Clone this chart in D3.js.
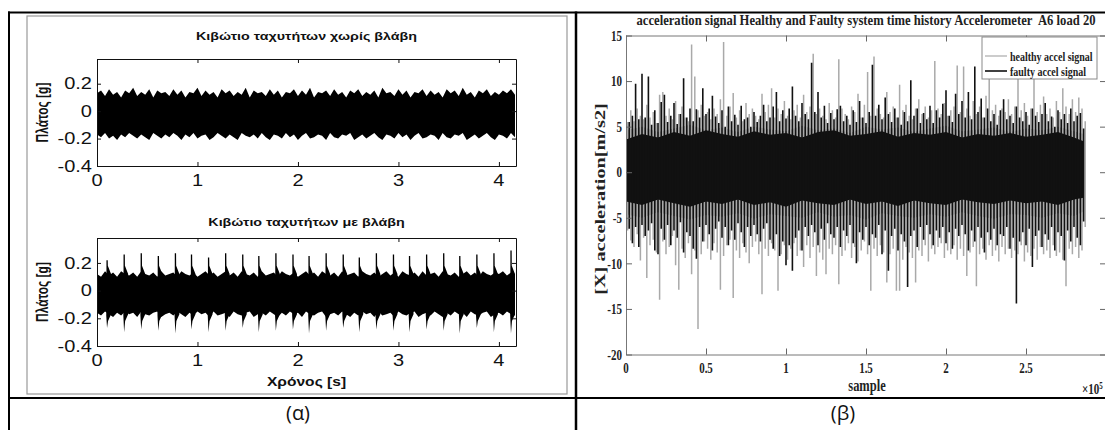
<!DOCTYPE html>
<meta charset="utf-8">
<style>
    body { margin: 0; background: #fff; }
    svg { display: block; background: #fff; }
    .lp text { font-family: "Liberation Sans", Arial, sans-serif; fill: #111; }
    .rp text { font-family: "Liberation Serif", "Times New Roman", serif; font-weight: bold; fill: #222; }
    .caption { font-family: "Open Sans", "Noto Sans", sans-serif; font-size: 20px; fill: #111; }
</style>
<body>
<script src="https://d3js.org/d3.v7.min.js"></script>
<script>
    // ---- (α) gearbox vibration, envelope of the signal every 0.04 s ----
    var gearStep = 0.04;
    var gearXTicks = [0, 1, 2, 3, 4];
    var gearYTicks = [-0.4, -0.2, 0, 0.2];
    var healthyGearHi = [
        .13,.15,.11,.16,.12,.14,.10,.15,.13,.17,.11,.14,.12,.16,.10,.15,.13,.14,.11,.16,
        .12,.15,.10,.14,.13,.17,.11,.15,.12,.14,.10,.16,.13,.15,.11,.14,.12,.17,.10,.15,
        .13,.14,.11,.16,.12,.15,.10,.14,.13,.16,.11,.15,.12,.17,.10,.14,.13,.15,.11,.16,
        .12,.14,.10,.15,.13,.16,.11,.14,.12,.15,.10,.17,.13,.14,.11,.16,.12,.15,.10,.14,
        .13,.16,.11,.15,.12,.14,.10,.16,.13,.15,.11,.17,.12,.14,.10,.15,.13,.16,.11,.14,
        .12,.15,.13,.16,.12];
    var healthyGearLo = [
        -.17,-.19,-.16,-.20,-.18,-.21,-.17,-.19,-.16,-.18,-.20,-.17,-.19,-.21,-.16,-.18,-.20,-.17,-.19,-.16,
        -.18,-.21,-.17,-.19,-.16,-.20,-.18,-.17,-.21,-.19,-.16,-.18,-.20,-.17,-.19,-.21,-.16,-.18,-.19,-.17,
        -.20,-.16,-.19,-.21,-.17,-.18,-.20,-.16,-.19,-.17,-.21,-.18,-.16,-.20,-.19,-.17,-.18,-.21,-.16,-.19,
        -.20,-.17,-.18,-.16,-.21,-.19,-.17,-.20,-.18,-.16,-.19,-.21,-.17,-.18,-.20,-.16,-.19,-.17,-.21,-.18,
        -.16,-.20,-.19,-.17,-.18,-.21,-.16,-.19,-.20,-.17,-.18,-.16,-.21,-.19,-.17,-.20,-.18,-.16,-.19,-.21,
        -.17,-.18,-.20,-.16,-.19];
    var faultyGearHi = [
        .12,.10,.14,.11,.13,.10,.14,.12,.11,.13,.10,.14,.12,.11,.13,.10,.14,.11,.12,.13,
        .10,.14,.12,.11,.13,.10,.12,.14,.11,.13,.10,.12,.14,.11,.13,.10,.14,.12,.11,.13,
        .10,.14,.11,.12,.13,.10,.14,.12,.11,.13,.10,.12,.14,.11,.13,.10,.14,.12,.11,.13,
        .10,.14,.11,.12,.13,.10,.14,.12,.11,.13,.10,.12,.14,.11,.13,.10,.14,.12,.11,.13,
        .10,.14,.11,.12,.13,.10,.14,.12,.11,.13,.10,.12,.14,.11,.13,.10,.14,.12,.11,.13,
        .12,.14,.11,.13,.12];
    var faultyGearLo = [
        -.16,-.18,-.15,-.17,-.19,-.16,-.18,-.15,-.17,-.16,-.19,-.15,-.17,-.18,-.16,-.15,-.19,-.17,-.16,-.18,
        -.15,-.17,-.19,-.16,-.18,-.15,-.17,-.16,-.19,-.15,-.18,-.17,-.16,-.19,-.15,-.17,-.18,-.16,-.15,-.19,
        -.17,-.16,-.18,-.15,-.17,-.19,-.16,-.18,-.15,-.17,-.16,-.19,-.15,-.17,-.18,-.16,-.15,-.19,-.17,-.16,
        -.18,-.15,-.17,-.19,-.16,-.18,-.15,-.17,-.16,-.19,-.15,-.18,-.17,-.16,-.19,-.15,-.17,-.18,-.16,-.15,
        -.19,-.17,-.16,-.18,-.15,-.17,-.19,-.16,-.18,-.15,-.17,-.16,-.19,-.15,-.17,-.18,-.16,-.15,-.19,-.17,
        -.16,-.18,-.15,-.17,-.18];
    // periodic impacts of the faulty gearbox: time [s] and peak values [g]
    var impulseTimes = [0.10,0.27,0.44,0.61,0.78,0.94,1.11,1.28,1.45,1.61,1.78,1.95,2.11,2.28,2.45,2.61,2.78,2.95,3.11,3.28,3.45,3.61,3.78,3.95,4.12];
    var impulseHi = [.22,.26,.27,.25,.27,.26,.24,.27,.26,.25,.27,.26,.25,.27,.26,.24,.27,.26,.25,.26,.27,.25,.26,.27,.29];
    var impulseLo = [-.27,-.30,-.28,-.29,-.31,-.28,-.30,-.29,-.27,-.30,-.29,-.28,-.31,-.29,-.27,-.30,-.28,-.29,-.30,-.28,-.29,-.31,-.27,-.30,-.31];

    // ---- (β) accelerometer A6, peaks every 0.02 (x1e5 samples) ----
    var accelStep = 0.02;
    var healthyOffset = 0.01;
    var accelXTicks = [0, 0.5, 1, 1.5, 2, 2.5, 3];
    var accelYTicks = [-20, -15, -10, -5, 0, 5, 10, 15];
    var faultyAccelHi = [
        4.5,5.5,6.2,9.7,5.8,10.8,6.0,10.5,5.2,6.8,5.4,7.7,
        8.5,5.5,6.2,7.6,5.3,6.4,10.3,6.0,7.0,5.6,6.9,6.0,
        9.2,6.4,7.0,8.4,6.1,5.4,6.8,5.0,7.2,5.6,6.3,5.2,
        7.3,5.8,6.0,5.0,6.6,5.5,6.2,7.4,5.6,6.0,7.2,8.8,
        5.6,6.8,5.9,7.0,9.4,6.2,5.6,7.6,6.4,5.8,12.0,6.6,
        8.8,6.0,7.3,5.4,6.5,5.8,6.9,7.3,5.6,6.2,5.2,6.8,
        5.5,7.8,6.0,5.4,6.6,11.8,6.2,7.4,5.8,8.2,6.4,5.5,
        7.0,6.0,5.2,6.6,5.6,10.1,6.2,7.0,5.4,6.5,5.8,7.3,
        5.4,6.8,6.0,7.5,9.0,6.2,5.5,8.6,6.4,7.8,6.0,8.8,
        5.8,11.6,6.6,8.1,6.0,7.0,5.6,6.4,5.2,6.8,8.0,5.8,
        6.2,5.4,7.2,6.0,5.6,6.6,5.2,7.0,6.2,5.5,6.4,7.6,
        5.6,6.1,5.0,6.8,5.8,6.4,5.4,7.0,5.6,6.2,6.5,4.8];
    var faultyAccelLo = [
        -5.5,-6.2,-7.8,-6.0,-8.2,-5.8,-7.0,-6.4,-5.6,-8.6,-9.0,-6.2,
        -7.4,-5.8,-8.0,-6.4,-7.2,-5.5,-8.8,-6.6,-7.0,-8.4,-9.5,-6.0,
        -7.6,-5.8,-6.8,-8.6,-6.2,-5.4,-7.2,-6.0,-8.0,-6.4,-7.4,-5.6,
        -6.6,-8.2,-6.0,-7.0,-5.8,-6.8,-7.6,-6.2,-5.6,-7.4,-8.4,-6.8,
        -9.2,-7.6,-10.2,-8.0,-10.8,-7.2,-6.4,-8.6,-6.0,-7.0,-5.8,-6.6,
        -8.0,-6.2,-7.4,-5.6,-6.8,-7.2,-6.0,-8.2,-6.4,-7.0,-5.8,-7.8,
        -10.0,-6.6,-7.4,-6.0,-8.0,-6.8,-7.2,-5.8,-9.0,-6.4,-10.8,-7.0,
        -6.2,-8.6,-6.8,-7.6,-12.6,-7.0,-6.4,-8.2,-6.0,-7.4,-5.8,-6.8,
        -8.0,-6.4,-7.2,-6.0,-7.8,-6.6,-8.4,-6.2,-7.0,-5.8,-6.8,-8.6,
        -6.4,-7.6,-6.0,-7.2,-8.8,-6.6,-7.4,-6.2,-8.0,-6.8,-7.0,-6.0,
        -8.4,-7.2,-14.4,-7.6,-6.6,-8.0,-6.2,-10.4,-7.0,-6.4,-8.2,-6.8,
        -7.4,-6.0,-8.6,-6.6,-7.0,-9.7,-6.4,-7.6,-6.0,-7.2,-8.0,-5.4];
    var healthyAccelHi = [
        5.5,6.8,5.6,7.0,6.2,5.8,7.4,6.0,6.6,5.4,8.5,8.8,
        6.2,7.0,5.8,7.8,6.4,7.2,6.0,5.6,14.0,10.5,6.8,7.4,
        6.2,6.6,5.8,7.0,6.4,8.0,14.3,6.2,7.2,8.7,6.0,6.8,
        5.6,7.6,6.4,7.0,6.2,5.8,8.6,6.6,7.4,9.2,6.0,7.0,
        6.4,7.8,6.2,5.8,6.8,7.4,6.0,8.5,6.6,7.2,13.0,6.4,
        7.0,6.2,5.8,7.6,6.8,6.0,12.4,7.0,6.4,5.8,7.2,6.6,
        8.6,6.0,7.4,11.0,6.2,12.7,7.0,6.4,6.0,8.8,6.6,7.2,
        6.0,9.6,6.8,7.4,6.2,5.8,7.0,8.0,6.4,7.2,6.0,6.8,
        12.2,7.0,6.4,7.6,6.2,6.8,7.2,11.7,6.6,11.6,7.0,6.2,
        7.8,6.4,7.2,6.0,8.4,11.0,6.8,7.4,6.2,7.0,6.6,8.0,
        6.4,7.2,12.0,6.8,7.6,6.2,7.0,11.5,6.6,7.4,8.3,6.4,
        7.0,6.0,7.8,6.6,9.2,7.2,6.4,8.0,6.6,8.2,7.0,5.6];
    var healthyAccelLo = [
        -6.4,-7.5,-8.2,-6.8,-9.7,-7.2,-11.6,-8.0,-7.4,-8.8,-14.0,-7.6,
        -9.0,-8.2,-7.0,-10.2,-12.9,-8.4,-9.4,-7.8,-11.2,-8.6,-17.2,-9.0,
        -7.6,-8.4,-9.6,-7.8,-8.8,-12.9,-9.2,-8.0,-7.4,-13.8,-8.6,-9.4,
        -7.8,-8.8,-10.0,-8.2,-7.6,-9.0,-13.4,-8.4,-9.2,-7.8,-8.6,-13.0,
        -9.0,-8.0,-9.6,-8.4,-7.8,-9.2,-8.6,-10.4,-8.0,-9.4,-8.2,-11.4,
        -8.8,-9.6,-11.2,-8.4,-9.0,-8.0,-12.3,-9.2,-8.6,-7.8,-9.4,-8.2,
        -9.8,-8.6,-7.6,-9.0,-13.0,-8.4,-9.2,-8.0,-8.8,-12.1,-9.0,-8.4,
        -13.0,-13.0,-9.6,-8.2,-8.8,-9.4,-12.1,-8.6,-9.2,-8.0,-9.8,-8.4,
        -9.0,-8.2,-7.8,-9.4,-8.6,-9.0,-8.0,-9.6,-8.4,-9.2,-11.4,-8.8,
        -8.2,-12.5,-9.0,-8.4,-9.6,-8.0,-9.2,-8.6,-9.8,-8.2,-9.0,-8.4,
        -9.4,-8.6,-9.0,-8.0,-9.8,-8.8,-9.2,-8.4,-9.6,-8.2,-9.0,-8.6,
        -9.4,-8.0,-9.2,-8.8,-9.6,-12.5,-8.4,-9.0,-8.2,-9.4,-8.6,-6.0];
    // dense core of each signal, sampled every 0.1
    var coreX = [0,0.1,0.2,0.3,0.4,0.5,0.6,0.7,0.8,0.9,1.0,1.1,1.2,1.3,1.4,1.5,1.6,1.7,1.8,1.9,2.0,2.1,2.2,2.3,2.4,2.5,2.6,2.7,2.8,2.86];
    var faultyCoreHi = [3.6,4.2,3.8,4.4,4.0,4.6,4.2,3.9,4.5,4.1,4.3,3.8,4.4,4.6,4.0,4.2,4.5,3.9,4.3,4.1,4.4,3.8,4.2,4.0,4.3,3.9,4.1,4.4,3.8,3.4];
    var faultyCoreLo = [-3.2,-3.6,-3.0,-3.4,-3.8,-3.2,-3.5,-3.0,-3.6,-3.3,-3.8,-3.1,-3.4,-3.6,-3.0,-3.5,-3.2,-3.7,-3.1,-3.4,-3.6,-3.0,-3.3,-3.5,-3.1,-3.4,-3.2,-3.6,-3.0,-2.8];
    var healthyCoreHi = [4.6,5.0,4.4,4.8,5.2,4.6,4.9,4.4,5.0,4.7,4.5,5.1,4.6,4.8,4.3,5.0,4.7,4.9,4.4,4.8,5.1,4.5,4.7,4.9,4.4,4.8,4.6,5.0,4.5,4.2];
    var healthyCoreLo = [-4.6,-5.0,-4.4,-4.8,-5.2,-4.7,-4.9,-4.5,-5.1,-4.6,-4.8,-5.0,-4.4,-4.9,-4.7,-5.2,-4.5,-4.8,-5.0,-4.6,-4.9,-4.4,-4.8,-5.1,-4.6,-4.7,-5.0,-4.5,-4.8,-4.3];

    var svg = d3.select("body").append("svg")
        .attr("width", 1105)
        .attr("height", 430);

    // text that was squeezed/stretched together with the pasted picture
    function stretchText(g, x, y, s, size, o) {
        o = o || {};
        var t = "translate(" + x + "," + y + ")" + (o.rot ? " rotate(-90)" : "") +
            " scale(" + (o.sx || 1) + "," + (o.sy || 1) + ")";
        var el = g.append("text")
            .attr("transform", t)
            .attr("text-anchor", o.anchor || "middle")
            .attr("dy", "0.35em")
            .style("font-size", size + "px")
            .style("font-weight", o.bold ? "bold" : null)
            .text(s);
        if (o.len) el.attr("textLength", o.len).attr("lengthAdjust", "spacingAndGlyphs");
        return el;
    }

    // ---------- left picture (α) ----------
    svg.append("rect")
        .attr("x", 27).attr("y", 16).attr("width", 540).attr("height", 378)
        .attr("fill", "none").attr("stroke", "#9a9a9a").attr("stroke-width", 1.2);

    var gearXMax = 4.17;
    var lx = d3.scaleLinear().domain([0, gearXMax]).range([97, 516]);

    function gearPlot(top, bottom, titleText, hi, lo, clipId, titleY) {
        var y = d3.scaleLinear().domain([-0.4, 0.38]).range([bottom, top]);
        var g = svg.append("g").attr("class", "lp");
        g.append("clipPath").attr("id", clipId).append("rect")
            .attr("x", lx(0)).attr("y", top)
            .attr("width", lx(gearXMax) - lx(0)).attr("height", bottom - top);
        var plot = g.append("g").attr("clip-path", "url(#" + clipId + ")");
        var area = d3.area()
            .x(function(d, i) { return lx(i * gearStep); })
            .y0(function(d, i) { return y(lo[i]); })
            .y1(function(d) { return y(d); });
        plot.append("path").datum(hi).attr("d", area).attr("fill", "#000");

        var axes = [
            [d3.axisBottom(lx).tickValues(gearXTicks), "translate(0," + bottom + ")"],
            [d3.axisTop(lx).tickValues(gearXTicks), "translate(0," + top + ")"],
            [d3.axisLeft(y).tickValues(gearYTicks), "translate(" + lx(0) + ",0)"],
            [d3.axisRight(y).tickValues(gearYTicks), "translate(" + lx(gearXMax) + ",0)"]
        ];
        axes.forEach(function(a) {
            var ax = g.append("g").attr("transform", a[1])
                .call(a[0].tickSizeInner(-4).tickSizeOuter(0).tickFormat(""));
            ax.select(".domain").attr("stroke", "#111");
            ax.selectAll(".tick line").attr("stroke", "#111");
        });
        gearXTicks.forEach(function(v) {
            stretchText(g, lx(v), bottom + 14, String(v), 16, {sx: 1.25});
        });
        gearYTicks.forEach(function(v) {
            stretchText(g, 92, y(v), String(v), 16, {sx: 1.25, anchor: "end"});
        });
        stretchText(g, (lx(0) + lx(gearXMax)) / 2, titleY, titleText, 11, {sx: 1.3, bold: true});
        stretchText(g, 43, (top + bottom) / 2, "Πλάτος [g]", 12, {rot: true, sy: 1.3, bold: true});
        return {g: g, y: y, plot: plot};
    }

    gearPlot(59, 166, "Κιβώτιο ταχυτήτων χωρίς βλάβη", healthyGearHi, healthyGearLo, "clipA", 36);
    var fp = gearPlot(238, 346, "Κιβώτιο ταχυτήτων με βλάβη", faultyGearHi, faultyGearLo, "clipB", 222);

    // impacts: sharp rise then a short decay
    var ly = fp.y;
    impulseTimes.forEach(function(t, k) {
        var up = d3.path();
        up.moveTo(lx(t) - 0.6, ly(0));
        up.lineTo(lx(t) - 0.6, ly(impulseHi[k]));
        up.lineTo(lx(t) + 0.7, ly(impulseHi[k]));
        up.lineTo(lx(t + 0.008), ly(0.18));
        up.lineTo(lx(t + 0.04), ly(0.12));
        up.lineTo(lx(t + 0.04), ly(0));
        up.closePath();
        var dn = d3.path();
        dn.moveTo(lx(t - 0.008), ly(0));
        dn.lineTo(lx(t - 0.008), ly(-0.18));
        dn.lineTo(lx(t), ly(impulseLo[k]));
        dn.lineTo(lx(t + 0.01), ly(-0.22));
        dn.lineTo(lx(t + 0.04), ly(-0.17));
        dn.lineTo(lx(t + 0.04), ly(0));
        dn.closePath();
        fp.plot.append("path").attr("d", up.toString()).attr("fill", "#000");
        fp.plot.append("path").attr("d", dn.toString()).attr("fill", "#000");
    });
    stretchText(fp.g, (lx(0) + lx(gearXMax)) / 2, 382, "Χρόνος [s]", 12, {sx: 1.3, bold: true});

    // ---------- right picture (β) ----------
    var rp = svg.append("g").attr("class", "rp");
    var rx = d3.scaleLinear().domain([0, 3]).range([626, 1106]);
    var ry = d3.scaleLinear().domain([-20, 15]).range([354.5, 35.5]);

    rp.append("clipPath").attr("id", "clipR").append("rect")
        .attr("x", rx(0)).attr("y", ry(15))
        .attr("width", rx(3) - rx(0)).attr("height", ry(-20) - ry(15));
    var rplot = rp.append("g").attr("clip-path", "url(#clipR)");

    function core(hi, lo) {
        return d3.area()
            .x(function(d, i) { return rx(coreX[i]); })
            .y0(function(d, i) { return ry(lo[i]); })
            .y1(function(d) { return ry(d); })(hi);
    }
    function peaks(hi, lo, start, color, w) {
        rplot.append("g").selectAll("line")
            .data(hi)
            .join("line")
            .attr("x1", function(d, i) { return rx(start + i * accelStep); })
            .attr("x2", function(d, i) { return rx(start + i * accelStep); })
            .attr("y1", function(d, i) { return ry(lo[i]); })
            .attr("y2", function(d) { return ry(d); })
            .attr("stroke", color)
            .attr("stroke-width", w);
    }
    rplot.append("path").attr("d", core(healthyCoreHi, healthyCoreLo)).attr("fill", "#a9a9a9");
    peaks(healthyAccelHi, healthyAccelLo, healthyOffset, "#a9a9a9", 1.5);
    rplot.append("path").attr("d", core(faultyCoreHi, faultyCoreLo)).attr("fill", "#111");
    peaks(faultyAccelHi, faultyAccelLo, 0, "#111", 1.6);

    var raxes = [
        [d3.axisBottom(rx).tickValues(accelXTicks), "translate(0," + ry(-20) + ")"],
        [d3.axisTop(rx).tickValues(accelXTicks), "translate(0," + ry(15) + ")"],
        [d3.axisLeft(ry).tickValues(accelYTicks), "translate(" + rx(0) + ",0)"],
        [d3.axisRight(ry).tickValues(accelYTicks), "translate(" + rx(3) + ",0)"]
    ];
    raxes.forEach(function(a) {
        var ax = rp.append("g").attr("transform", a[1])
            .call(a[0].tickSizeInner(-6).tickSizeOuter(0).tickFormat(""));
        ax.select(".domain").attr("stroke", "#777");
        ax.selectAll(".tick line").attr("stroke", "#666");
    });
    accelXTicks.slice(0, -1).forEach(function(v) {
        stretchText(rp, rx(v), 368, String(v), 11, {sy: 1.35});
    });
    accelYTicks.forEach(function(v) {
        stretchText(rp, 622, ry(v), String(v), 11, {sy: 1.35, anchor: "end"});
    });
    stretchText(rp, 866, 20,
        "acceleration signal Healthy and Faulty system time history Accelerometer\u00a0 A6 load 20", 11.4,
        {sy: 1.35, len: 459});
    stretchText(rp, 600, 199, "[X] acceleration[m/s2]", 15, {rot: true, sx: 1.35});
    stretchText(rp, 867, 385, "sample", 12.5, {sy: 1.35});
    var mult = stretchText(rp, 1082, 389, "×10", 11, {sy: 1.35, anchor: "start"});
    mult.append("tspan").attr("dy", "-0.5em").style("font-size", "7px").text("5");

    // legend
    var legendItems = [
        {name: "healthy accel signal", color: "#a9a9a9", w: 1.2},
        {name: "faulty accel signal", color: "#111", w: 1.6}
    ];
    var lg = rp.append("g");
    lg.append("rect").attr("x", 982).attr("y", 37).attr("width", 115).attr("height", 42)
        .attr("fill", "#fff").attr("stroke", "#8a8a8a").attr("stroke-width", 1);
    legendItems.forEach(function(d, i) {
        var yy = 56 + i * 15;
        lg.append("line").attr("x1", 985).attr("x2", 1007).attr("y1", yy).attr("y2", yy)
            .attr("stroke", d.color).attr("stroke-width", d.w);
        stretchText(lg, 1010, yy, d.name, 10, {sy: 1.35, anchor: "start"});
    });

    // ---------- table rules and captions ----------
    var rules = svg.append("g").attr("stroke", "#000");
    rules.append("line").attr("x1", 8).attr("x2", 1105).attr("y1", 12.5).attr("y2", 12.5).attr("stroke-width", 2);
    rules.append("line").attr("x1", 9).attr("x2", 9).attr("y1", 11.5).attr("y2", 430).attr("stroke-width", 2);
    rules.append("line").attr("x1", 576).attr("x2", 576).attr("y1", 11.5).attr("y2", 430).attr("stroke-width", 2.5);
    rules.append("line").attr("x1", 8).attr("x2", 1105).attr("y1", 398).attr("y2", 398).attr("stroke-width", 2);

    svg.append("text").attr("class", "caption").attr("x", 298).attr("y", 413)
        .attr("dy", "0.35em").attr("text-anchor", "middle").text("(α)");
    svg.append("text").attr("class", "caption").attr("x", 843).attr("y", 413)
        .attr("dy", "0.35em").attr("text-anchor", "middle").text("(β)");
</script>
